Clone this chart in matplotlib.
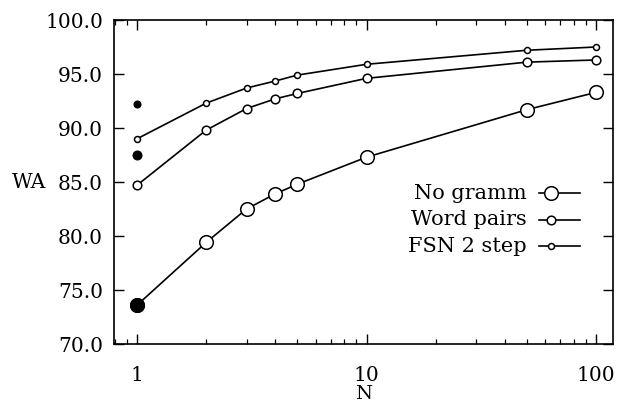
import matplotlib
matplotlib.use("Agg")
import matplotlib.pyplot as plt
from matplotlib.ticker import LogLocator, FixedLocator, NullFormatter, FuncFormatter

N = [1, 2, 3, 4, 5, 10, 50, 100]
no_gramm = [73.6, 79.4, 82.5, 83.9, 84.8, 87.3, 91.7, 93.3]
word_pairs = [84.7, 89.8, 91.8, 92.7, 93.2, 94.6, 96.1, 96.3]
fsn_2step = [89.0, 92.3, 93.7, 94.35, 94.9, 95.9, 97.2, 97.5]
filled_vals = [73.6, 87.5, 92.2]
labels = ["No gramm", "Word pairs", "FSN 2 step"]
yticks = [70, 75, 80, 85, 90, 95, 100]
xticks = [1, 10, 100]

plt.rcParams['font.family'] = ['DejaVu Serif']
fig = plt.figure(figsize=(6.18, 4.05), dpi=100)
ax = fig.add_axes([0.1845, 0.1506, 0.8075, 0.80])

sizes = [9.8, 6.2, 4.3]
series = [no_gramm, word_pairs, fsn_2step]
for vals, ms in zip(series, sizes):
    ax.plot(N, vals, color='black', lw=1.2, marker='o', ms=ms,
            mfc='white', mec='black', mew=1.1, zorder=3)
# filled points at N=1
ax.plot([N[0]], [filled_vals[0]], 'o', color='black', ms=sizes[0], zorder=4)
ax.plot([N[0]], [filled_vals[1]], 'o', color='black', ms=sizes[1], zorder=4)
ax.plot([N[0]], [filled_vals[2]], 'o', color='black', ms=sizes[2] + 0.5, zorder=4)

ax.set_xscale('log')
ax.set_xlim(0.794, 118.6)
ax.set_ylim(70, 100)
ax.set_yticks(yticks)
ax.yaxis.set_major_formatter(FuncFormatter(lambda v, p: f"{v:.1f}"))
ax.xaxis.set_major_locator(FixedLocator(xticks))
ax.xaxis.set_major_formatter(FuncFormatter(lambda v, p: f"{int(v)}"))
ax.xaxis.set_minor_locator(LogLocator(base=10, subs=range(2, 10)))
ax.xaxis.set_minor_formatter(NullFormatter())
ax.tick_params(which='both', direction='in', top=True, right=True, labelsize=14.5)
ax.tick_params(which='major', length=7, width=1.0)
ax.tick_params(axis='y', which='major', pad=8)
ax.tick_params(axis='x', which='major', pad=16)
ax.tick_params(which='minor', length=3.5, width=0.9)
for s in ax.spines.values():
    s.set_linewidth(1.2)

ax.set_xlabel("N", fontsize=14, labelpad=0)
ax.set_ylabel("WA", fontsize=14.5, rotation=0, va='center')
ax.yaxis.set_label_coords(-0.17, 0.5)

# manual legend (right-aligned text, marker to the right)
ys = [0.465, 0.383, 0.302]
for lab, ms, yy in zip(labels, sizes, ys):
    ax.text(0.8275, yy, lab, transform=ax.transAxes, ha='right', va='center', fontsize=15)
    ax.plot([0.852, 0.934], [yy, yy], transform=ax.transAxes, color='black', lw=1.2)
    ax.plot([0.876], [yy], transform=ax.transAxes, marker='o', ms=ms,
            mfc='white', mec='black', mew=1.1, color='black')

fig.savefig("out.png", dpi=100)
